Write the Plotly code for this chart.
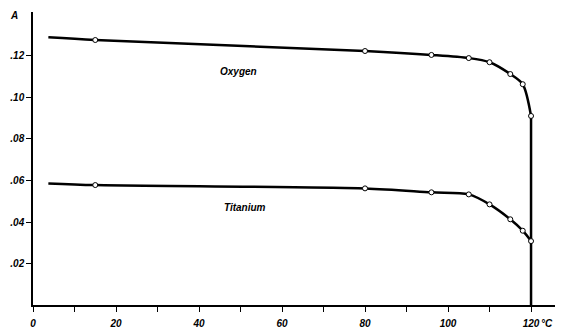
import plotly.graph_objects as go

# Temperature (°C) of measured points
temps = [15, 80, 96, 105, 110, 115, 118, 120]
oxygen = [0.1277, 0.1224, 0.1205, 0.1190, 0.1170, 0.1113, 0.1064, 0.0911]
titanium = [0.0578, 0.0562, 0.0543, 0.0533, 0.0485, 0.0413, 0.0358, 0.0308]

# Curve start points (line drawn without marker)
curve_start_x = 3.7
oxygen_start = 0.1290
titanium_start = 0.0586

# Vertical drop at 120 °C
drop_x = [120, 120]
drop_y = [oxygen[-1], 0.0]

x_tickvals = list(range(0, 121, 10))
x_ticktext = ["0", "", "20", "", "40", "", "60", "", "80", "", "100", "", "120"]
y_tickvals = [0.02, 0.04, 0.06, 0.08, 0.10, 0.12]
y_ticktext = [".02", ".04", ".06", ".08", ".10", ".12"]

FONT = dict(family="Liberation Sans", size=10, color="black", style="italic", weight="bold")

fig = go.Figure()

for start, series in ((oxygen_start, oxygen), (titanium_start, titanium)):
    fig.add_trace(go.Scatter(
        x=[curve_start_x] + temps, y=[start] + series, mode="lines",
        line=dict(color="black", width=2.5, shape="spline", smoothing=0.8),
        hoverinfo="skip", showlegend=False))

fig.add_trace(go.Scatter(x=drop_x, y=drop_y, mode="lines",
                         line=dict(color="black", width=2.5), showlegend=False))

for series in (oxygen, titanium):
    fig.add_trace(go.Scatter(
        x=temps, y=series, mode="markers",
        marker=dict(size=5, color="white", line=dict(color="black", width=1)),
        showlegend=False))

fig.add_annotation(x=49.5, y=0.1123, text="Oxygen", showarrow=False, font=FONT)
fig.add_annotation(x=51.0, y=0.0472, text="Titanium", showarrow=False, font=FONT)
fig.add_annotation(x=0, xref="paper", y=1.0, yref="paper", text="A", showarrow=False,
                   font=FONT, xanchor="center", yanchor="middle", xshift=-19, yshift=-3)
fig.add_annotation(x=122.0, y=0, text="°C", showarrow=False, font=FONT,
                   xanchor="left", yanchor="top", yshift=-11)

fig.update_layout(
    width=563, height=328,
    margin=dict(l=25, r=8, t=4, b=31),
    paper_bgcolor="white", plot_bgcolor="white",
    xaxis=dict(range=[0, 127.7], tickvals=x_tickvals, ticktext=x_ticktext,
               showgrid=False, zeroline=False, showline=True, linecolor="black",
               linewidth=1.5, ticks="outside", ticklen=5, tickwidth=1, tickcolor="black",
               tickfont=FONT, ticklabelstandoff=3, automargin=False),
    yaxis=dict(range=[0, 0.1412], tickvals=y_tickvals, ticktext=y_ticktext,
               showgrid=False, zeroline=False, showline=True, linecolor="black",
               linewidth=1.5, ticks="outside", ticklen=5, tickwidth=1, tickcolor="black",
               tickfont=FONT, automargin=False),
)

fig.write_html("out.html")
